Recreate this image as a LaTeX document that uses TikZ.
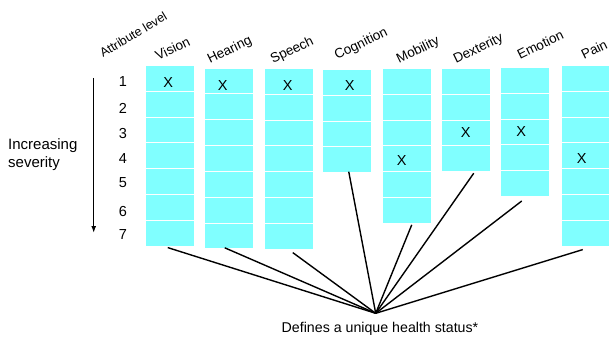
\documentclass[tikz,border=0pt]{standalone}
\usepackage{fontspec}
\setmainfont{Liberation Sans}
\usepackage{xcolor}
\usepackage{tikz}
\usetikzlibrary{positioning,arrows.meta}
\definecolor{levelcyan}{RGB}{128,255,255}

\begin{document}
\begin{tikzpicture}[
    x=1pt, y=-1pt,
    cell/.style={draw=white, line width=1pt, fill=levelcyan, minimum width=48.5pt, minimum height=25.8pt, inner sep=0pt, anchor=north west},
    attr/.style={font=\fontsize{13.5}{16}\selectfont, rotate=26, anchor=base west, inner sep=0pt},
    xmark/.style={font=\fontsize{14.5}{16}\selectfont, inner sep=0pt},
    level/.style={font=\fontsize{14.5}{18}\selectfont, inner sep=0pt},
    link/.style={line width=1.4pt}
  ]
    \useasboundingbox (0,0) rectangle (609,339);

    % attribute columns, one cell per level
    \foreach \col/\x/\y/\n in {vision/145/65/7, hearing/204/67.7/7, speech/264/68/7, cognition/322/69/4,
        mobility/382/68/6, dexterity/441/68/4, emotion/500/67/5, pain/561/65/7}
      \foreach \r in {1,...,\n}
        \node[cell] (\col\r) at (\x,{\y+(\r-1)*25.8}) {};

    \node[xmark] (visionx) at ([xshift=-1.5pt, yshift=-4pt]vision1.center) {X};
    \node[xmark] (hearingx) at ([xshift=-6pt, yshift=-4pt]hearing1.center) {X};
    \node[xmark] (speechx) at ([xshift=-1pt, yshift=-4pt]speech1.center) {X};
    \node[xmark] (cognitionx) at ([xshift=3pt, yshift=-3pt]cognition1.center) {X};
    \node[xmark] (mobilityx) at ([xshift=-5pt, yshift=-2pt]mobility4.center) {X};
    \node[xmark] (dexterityx) at (dexterity3.center) {X};
    \node[xmark] (emotionx) at ([xshift=-3.5pt]emotion3.center) {X};
    \node[xmark] (painx) at ([xshift=-4pt, yshift=-3pt]pain4.center) {X};

    \node[attr] (visionlabel) at (158,61) {Vision};
    \node[attr] (hearinglabel) at (210,64) {Hearing};
    \node[attr] (speechlabel) at (273,64) {Speech};
    \node[attr] (cognitionlabel) at (337,60) {Cognition};
    \node[attr] (mobilitylabel) at (399,64) {Mobility};
    \node[attr] (dexteritylabel) at (456,64) {Dexterity};
    \node[attr] (emotionlabel) at (520,60) {Emotion};
    \node[attr] (painlabel) at (584,60) {Pain};

    \node[font=\fontsize{12.5}{14}\selectfont, rotate=31, anchor=base west, inner sep=0pt] (attrlevel) at (103,58) {Attribute level};

    % severity scale
    \foreach \n/\ly in {1/82, 2/108, 3/134, 4/159, 5/183, 6/212, 7/235}
      \node[level] (lvl\n) at (123,\ly) {\n};
    \coordinate (sevtop) at (93.7,78);
    \coordinate (sevbot) at (93.7,233);
    \draw[link, -{Latex[length=7pt,width=5pt]}] (sevtop) -- (sevbot);
    \node[level, font=\fontsize{15}{18}\selectfont, align=left, anchor=west] (severity) at (8,155) {Increasing\\severity};

    % all columns meet in one health state
    \coordinate (hub) at (375.7,313.3);
    \foreach \col/\n/\sx/\sy in {vision/7/-2/-1, hearing/7/-4/1.5, speech/7/4/-3, cognition/4/2/1.5,
        mobility/6/5/-1, dexterity/4/8/-1, emotion/5/-3/-4, pain/7/-3/-3}
      \draw[link] ([xshift=\sx pt, yshift=\sy pt]\col\n.south) -- (hub);
    \node[font=\fontsize{14.2}{16}\selectfont] (statuslabel) at (380,329) {Defines a unique health status*};
  \end{tikzpicture}
\end{document}
